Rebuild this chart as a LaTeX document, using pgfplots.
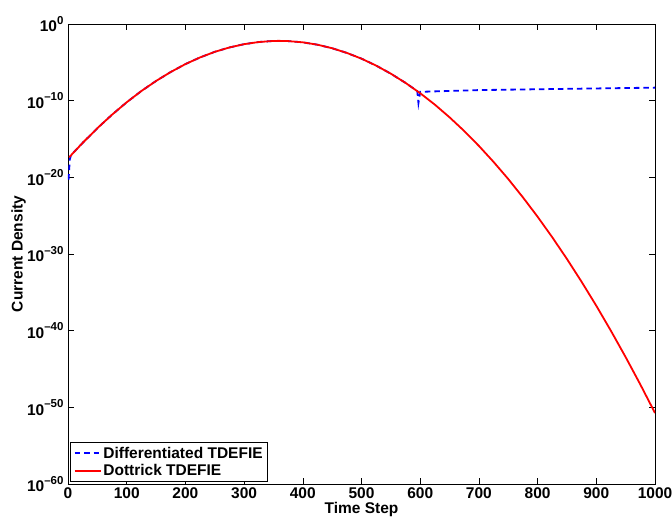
\documentclass[border=0pt]{standalone}
\usepackage{pgfplots}
\pgfplotsset{compat=1.18}
\usepackage{fontspec}
\setmainfont{Liberation Sans}
\newcommand{\tp}[1]{10\raisebox{0.5em}{\fontsize{11.5}{12}\selectfont\bfseries #1}}

\begin{document}
\begin{tikzpicture}
\begin{axis}[
  scale only axis,
  width=587pt, height=460pt,
  xmin=0, xmax=1000,
  ymode=log, ymin=1e-60, ymax=1,
  ytick={1e-60,1e-50,1e-40,1e-30,1e-20,1e-10,1},
  yticklabels={\tp{\textendash60},\tp{\textendash50},\tp{\textendash40},\tp{\textendash30},\tp{\textendash20},\tp{\textendash10},\tp{0}},
  yminorticks=false,
  xtick={0,100,...,1000},
  /pgf/number format/assume math mode=true,
  /pgf/number format/1000 sep={},
  tick label style={font=\fontsize{15.5}{17}\selectfont\bfseries},
  yticklabel style={xshift=-1pt},
  major tick length=6pt,
  tick style={black, line width=0.6pt},
  axis line style={line width=0.8pt},
  xlabel={Time Step},
  ylabel={Current Density},
  label style={font=\fontsize{15.5}{17}\selectfont\bfseries},
  xlabel style={at={(axis description cs:0.5,-0.056)}, anchor=center},
  ylabel style={at={(axis description cs:-0.084,0.5)}, anchor=center},
  legend style={at={(0.004,0.005)}, anchor=south west, font=\fontsize{15.5}{17}\selectfont\bfseries,
    draw=black, line width=0.8pt, inner xsep=3pt, inner ysep=2pt, row sep=1pt, cells={anchor=west}},
  legend image code/.code={\draw[#1] (0pt,0pt) -- (26pt,0pt);},
  legend image post style={line width=1.6pt},
]
\addplot[blue, dash pattern=on 5.5pt off 4pt, line width=1.8pt] table[y expr={10^(\thisrow{ly})}] {
x ly
1 -20.3
2 -19.0
3 -17.7
5 -17.1
25 -15.50
50 -13.59
75 -11.83
100 -10.21
125 -8.74
150 -7.43
175 -6.26
200 -5.23
225 -4.36
250 -3.63
275 -3.06
300 -2.63
325 -2.35
350 -2.21
375 -2.23
400 -2.39
425 -2.70
450 -3.16
475 -3.77
500 -4.52
525 -5.43
550 -6.48
575 -7.68
595 -8.74
597 -10.3
600 -8.85
620 -8.80
700 -8.62
838 -8.47
1000 -8.30
};
\addlegendentry{Differentiated TDEFIE}
\addplot[red, line width=1.8pt] table[y expr={10^(\thisrow{ly})}] {
x ly
2 -17.38
25 -15.50
50 -13.59
75 -11.83
100 -10.21
125 -8.74
150 -7.43
175 -6.26
200 -5.23
225 -4.36
250 -3.63
275 -3.06
300 -2.63
325 -2.35
350 -2.21
360 -2.20
375 -2.23
400 -2.39
425 -2.70
450 -3.16
475 -3.77
500 -4.52
525 -5.43
550 -6.48
575 -7.68
600 -9.03
625 -10.52
650 -12.17
675 -13.96
700 -15.90
725 -17.99
750 -20.22
775 -22.61
800 -25.14
825 -27.82
850 -30.65
875 -33.63
900 -36.75
925 -40.03
950 -43.45
975 -47.02
1000 -50.74
};
\addlegendentry{Dottrick TDEFIE}
\end{axis}
\pgfresetboundingbox
\path (-68pt,-33pt) rectangle (604pt,484pt);
\end{tikzpicture}
\end{document}
